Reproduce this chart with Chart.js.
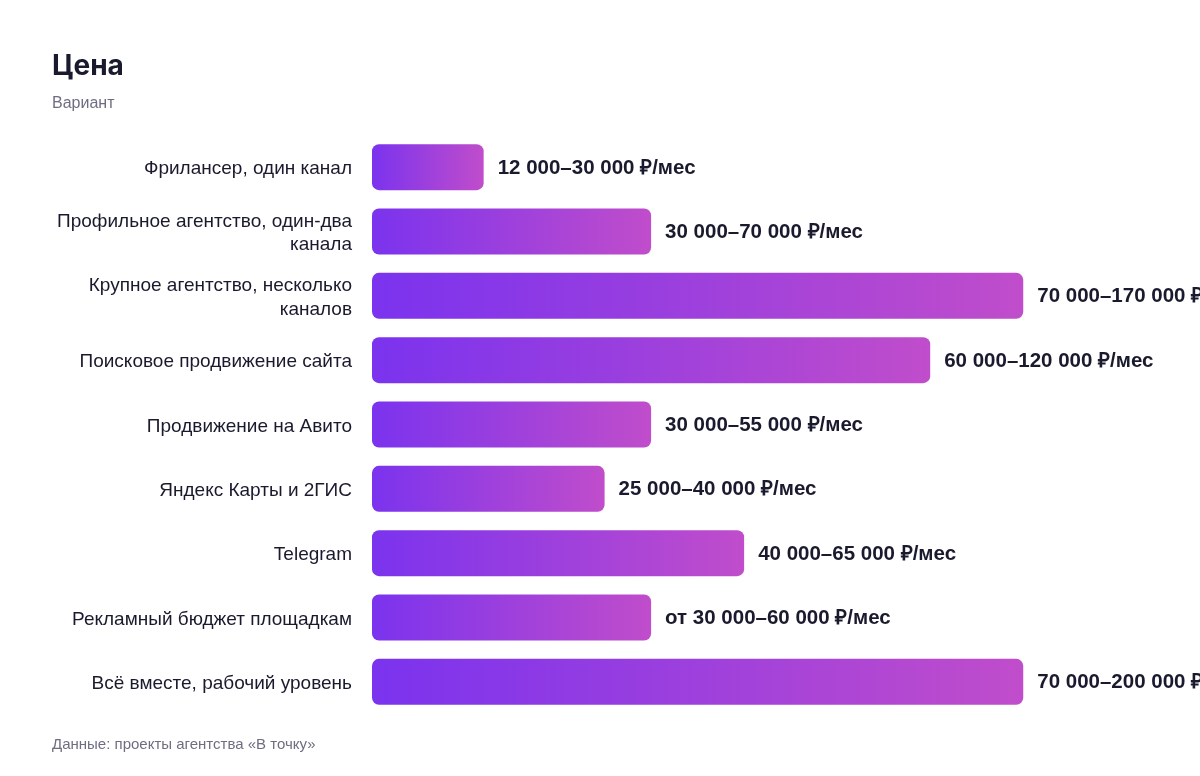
<!DOCTYPE html>
<html lang="ru">
<head>
<meta charset="utf-8">
<script src="https://cdn.jsdelivr.net/npm/chart.js@4"></script>
<style>
  html, body { margin: 0; padding: 0; background: #fff; }
  body { width: 1200px; height: 776px; position: relative; overflow: hidden; font-family: "Liberation Sans", Arial, sans-serif; }
  #wrap { position: absolute; left: 0; top: 0; width: 1200px; height: 776px; }
  h1 { position: absolute; left: 52px; top: 45px; margin: 0; font-family: Inter, sans-serif; font-size: 28px; font-weight: 700; color: #1a1a2e; line-height: 40px; }
  .sub { position: absolute; left: 52px; top: 93px; margin: 0; font-size: 16px; color: #6e6e82; line-height: 20px; }
  .note { position: absolute; left: 52px; top: 734px; margin: 0; font-size: 15px; color: #6e6e82; line-height: 20px; }
</style>
</head>
<body>
<div id="wrap"><canvas id="price-chart" width="1200" height="776"></canvas></div>
<h1>Цена</h1>
<p class="sub">Вариант</p>
<p class="note">Данные: проекты агентства «В точку»</p>
<script>
const categories = [
  'Фрилансер, один канал',
  ['Профильное агентство, один-два', 'канала'],
  ['Крупное агентство, несколько', 'каналов'],
  'Поисковое продвижение сайта',
  'Продвижение на Авито',
  'Яндекс Карты и 2ГИС',
  'Telegram',
  'Рекламный бюджет площадкам',
  'Всё вместе, рабочий уровень'
]
const priceFrom = [12000, 30000, 70000, 60000, 30000, 25000, 40000, 30000, 70000]
const priceTo = [30000, 70000, 170000, 120000, 55000, 40000, 65000, 60000, 200000]
const prefixes = ['', '', '', '', '', '', '', 'от ', '']

const dark = '#1a1a2e'
const violet = '#7b33ee'
const pink = '#c04dcb'
const labelFont = '"Liberation Sans", Arial, sans-serif'

function fmt(n) {
  return String(n).replace(/\B(?=(\d{3})+(?!\d))/g, '\u00a0')
}

const ctx = document.getElementById('price-chart')

function barGradient(context) {
  const chart = context.chart
  const x = chart.scales.x
  if (!chart.chartArea || !x) return violet
  const x0 = x.getPixelForValue(0)
  const x1 = x.getPixelForValue(context.raw)
  const g = chart.ctx.createLinearGradient(x0, 0, x1, 0)
  g.addColorStop(0, violet)
  g.addColorStop(1, pink)
  return g
}

// text to the right of every bar
const valueLabels = {
  id: 'valueLabels',
  afterDatasetsDraw(chart) {
    const c = chart.ctx
    const meta = chart.getDatasetMeta(0)
    c.save()
    c.font = 'bold 20.5px ' + labelFont
    c.fillStyle = dark
    c.textBaseline = 'middle'
    c.textAlign = 'left'
    meta.data.forEach((bar, i) => {
      const txt = prefixes[i] + fmt(priceFrom[i]) + '–' + fmt(priceTo[i]) + ' ₽/мес'
      c.fillText(txt, bar.x + 14, bar.y + 1)
    })
    c.restore()
  }
}

const mychart = new Chart(ctx, {
  type: 'bar',
  data: {
    labels: categories,
    datasets: [{
      data: priceFrom,
      backgroundColor: barGradient,
      borderRadius: 7,
      borderSkipped: false,
      barPercentage: 0.715,
      categoryPercentage: 1
    }]
  },
  options: {
    indexAxis: 'y',
    responsive: false,
    animation: false,
    layout: { padding: { left: 52, right: 0, top: 135, bottom: 62 } },
    plugins: {
      legend: { display: false },
      tooltip: { enabled: false }
    },
    scales: {
      x: {
        display: false,
        min: 0,
        max: 89000
      },
      y: {
        grid: { display: false },
        border: { display: false },
        afterFit(scale) { scale.width = 320 },
        ticks: {
          padding: 12,
          labelOffset: 2,
          color: dark,
          font: { size: 19, family: labelFont, lineHeight: 1.22 }
        }
      }
    }
  },
  plugins: [valueLabels]
})
</script>
</body>
</html>
